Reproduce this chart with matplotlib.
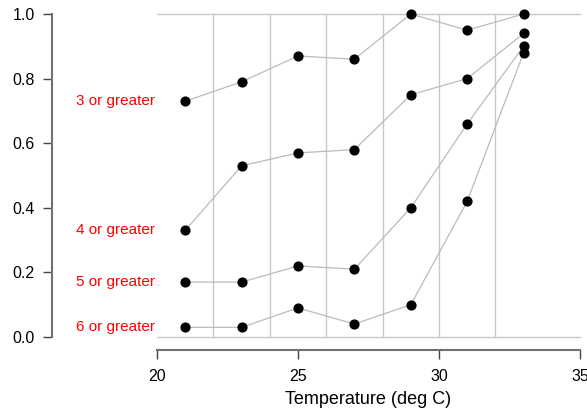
import numpy as np
import matplotlib.pyplot as plt

plt.rcParams['font.family'] = ['Liberation Sans', 'DejaVu Sans']

temps = [21, 23, 25, 27, 29, 31, 33]
labels = ['3 or greater', '4 or greater', '5 or greater', '6 or greater']
p3 = [0.73, 0.79, 0.87, 0.86, 1.00, 0.95, 1.00]
p4 = [0.33, 0.53, 0.57, 0.58, 0.75, 0.80, 0.94]
p5 = [0.17, 0.17, 0.22, 0.21, 0.40, 0.66, 0.90]
p6 = [0.03, 0.03, 0.09, 0.04, 0.10, 0.42, 0.88]
series = [p3, p4, p5, p6]
grid_x = [22, 24, 26, 28, 30, 32]

W, H = 587, 409
fig = plt.figure(figsize=(W / 100, H / 100), dpi=100)
# axes box: x 20..35 -> px 157..580, y 0..1 -> px 337..14
ax = fig.add_axes([157 / W, 1 - 337 / H, (580 - 157) / W, (337 - 14) / H])
ax.set_xlim(20, 35)
ax.set_ylim(0, 1)

# light reference lines
for gx in grid_x:
    ax.plot([gx, gx], [0, 1], color='#c8c8c8', lw=1, zorder=1)
ax.plot([20, 35], [0, 0], color='#c8c8c8', lw=1, zorder=1, clip_on=False)
ax.plot([20, 35], [1, 1], color='#c8c8c8', lw=1, zorder=1, clip_on=False)

for lab, vals in zip(labels, series):
    ax.plot(temps, vals, color='#bbbbbb', lw=0.9, zorder=2, clip_on=False)
    ax.scatter(temps, vals, color='black', s=40, zorder=3, clip_on=False)
    ax.text(19.93, vals[0], lab, color='red', fontsize=11, ha='right', va='center')

for s in ['top', 'right']:
    ax.spines[s].set_visible(False)
ax.spines['left'].set_position(('outward', 105 * 0.72))
ax.spines['bottom'].set_position(('outward', 13 * 0.72))
for s in ['left', 'bottom']:
    ax.spines[s].set_color('#707070')
    ax.spines[s].set_linewidth(1.5)

ax.set_xticks([20, 25, 30, 35])
ax.set_yticks([0, 0.2, 0.4, 0.6, 0.8, 1.0])
ax.set_yticklabels(['0.0', '0.2', '0.4', '0.6', '0.8', '1.0'])
ax.tick_params(axis='both', labelsize=11.5, length=6.5, width=1, color='#444444')
ax.tick_params(axis='x', pad=7)
ax.tick_params(axis='y', pad=6)
ax.set_xlabel('Temperature (deg C)', fontsize=13, labelpad=5)

fig.savefig('out.png', dpi=100)
